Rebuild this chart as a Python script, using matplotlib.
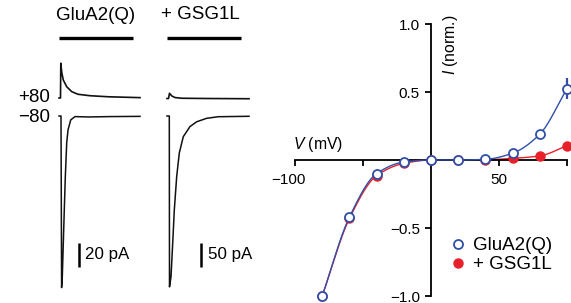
import numpy as np
import matplotlib
matplotlib.use('Agg')
import matplotlib.pyplot as plt
import matplotlib.transforms as mtransforms
from matplotlib.lines import Line2D

plt.rcParams['font.family'] = ['Liberation Sans', 'DejaVu Sans']
plt.rcParams['mathtext.fontset'] = 'custom'
plt.rcParams['mathtext.rm'] = 'Liberation Sans'
plt.rcParams['mathtext.it'] = 'Liberation Sans:italic'

# ---------------- data ----------------
voltages = [-80, -60, -40, -20, 0, 20, 40, 60, 80, 100]
iv_glua2 = [-1.0, -0.42, -0.10, -0.015, 0.0, 0.0, 0.005, 0.05, 0.19, 0.525]
iv_gsg1l = [-1.0, -0.43, -0.115, -0.025, 0.0, 0.0, 0.002, 0.012, 0.03, 0.105]
err_glua2 = [0, 0, 0, 0, 0, 0, 0, 0, 0, 0.08]
err_gsg1l = [0, 0, 0, 0, 0, 0, 0, 0, 0, 0.03]
series_labels = ["GluA2(Q)", "+ GSG1L"]
yticks = [-1.0, -0.5, 0.5, 1.0]
ytick_labels = ["\u22121.0", "\u22120.5", "0.5", "1.0"]
xticks = [-100, -50, 50, 100]
xtick_labels = ["\u2212100", "", "50", ""]

# current traces (time in ms, current in pA)
t_glua2_neg = [0, 2, 2.6, 3.3, 4.3, 5.3, 6.3, 7.7, 9, 11.7, 16, 30, 50, 81]
i_glua2_neg = [0, 0, -143, -134, -106, -78, -51, -22.5, -11.7, -3.3, -0.5, -0.8, -0.5, -0.3]
t_glua2_pos = [0, 1.5, 1.8, 2.8, 4.3, 7.7, 12.7, 19, 31, 50, 81]
i_glua2_pos = [0, 0, 29, 21, 15, 9.4, 5.3, 3.1, 1.9, 1.0, 0.3]
t_gsg1l_neg = [0, 2.3, 2.5, 4, 5.7, 7.3, 9.7, 12.3, 16.3, 23, 29.7, 39.7, 51.3, 82]
i_gsg1l_neg = [0, 0, -356, -335, -265, -196, -126, -77, -43, -22, -12, -4.8, -1.5, -0.6]
t_gsg1l_pos = [0, 1.5, 2.5, 5, 8, 15, 40, 82]
i_gsg1l_pos = [0, 0, 10.8, 5, 2, 0.5, 0, -0.5]
drug_duration = 74
scalebar_pA = [20, 50]
holding_labels = ["+80", "\u221280"]

# ---------------- layout ----------------
W, H = 571, 303
fig = plt.figure(figsize=(W / 100, H / 100), dpi=100)


def px_axes(x0, y0, x1, y1):
    return fig.add_axes([x0 / W, 1 - y1 / H, (x1 - x0) / W, (y1 - y0) / H])


def pchip(x, y, xn):
    x = np.asarray(x, float)
    y = np.asarray(y, float)
    h = np.diff(x)
    dl = np.diff(y) / h
    d = np.zeros_like(y)
    for k in range(1, len(x) - 1):
        if dl[k - 1] * dl[k] > 0:
            w1 = 2 * h[k] + h[k - 1]
            w2 = h[k] + 2 * h[k - 1]
            d[k] = (w1 + w2) / (w1 / dl[k - 1] + w2 / dl[k])
    d[0] = dl[0]
    d[-1] = dl[-1]
    idx = np.clip(np.searchsorted(x, xn) - 1, 0, len(x) - 2)
    hk = h[idx]
    s = (xn - x[idx]) / hk
    h00 = 2 * s**3 - 3 * s**2 + 1
    h10 = s**3 - 2 * s**2 + s
    h01 = -2 * s**3 + 3 * s**2
    h11 = s**3 - s**2
    return h00 * y[idx] + h10 * hk * d[idx] + h01 * y[idx + 1] + h11 * hk * d[idx + 1]


trace_color = '#111111'
base_px = 116           # -80 trace baseline (pixel row)
cols = [
    dict(x0=50, scale=1.2, pos_off_px=18, neg=(t_glua2_neg, i_glua2_neg),
         pos=(t_glua2_pos, i_glua2_pos), label=series_labels[0], lab_t=37,
         sb=scalebar_pA[0], sb_t=20, sb_text_t=26),
    dict(x0=158, scale=0.48, pos_off_px=17.5, neg=(t_gsg1l_neg, i_gsg1l_neg),
         pos=(t_gsg1l_pos, i_gsg1l_pos), label=series_labels[1], lab_t=33,
         sb=scalebar_pA[1], sb_t=34, sb_text_t=41),
]
for c in cols:
    ax = px_axes(c['x0'], 0, c['x0'] + 100, H)
    ax.set_xlim(-9, 91)
    sc = c['scale']
    ax.set_ylim(-(H - base_px) / sc, base_px / sc)
    ax.axis('off')
    tn, iN = c['neg']
    ax.plot(tn, iN, color=trace_color, lw=1.1, solid_joinstyle='round')
    tp, ip = c['pos']
    off = c['pos_off_px'] / sc
    ax.plot(tp, np.asarray(ip) + off, color=trace_color, lw=1.2, solid_joinstyle='round')
    # drug application bar
    yb = (base_px - 38) / sc
    ax.plot([0, drug_duration], [yb, yb], color='black', lw=2.4, solid_capstyle='butt')
    ax.text(c['lab_t'], (base_px - 15) / sc, c['label'], ha='center', va='center', fontsize=13.5)
    # scale bar
    ytop = (base_px - 243) / sc
    ax.plot([c['sb_t'], c['sb_t']], [ytop, ytop - c['sb']], color='black', lw=1.8,
            solid_capstyle='butt')
    ax.text(c['sb_text_t'], ytop - c['sb'] / 2, f"{c['sb']} pA", ha='left', va='center',
            fontsize=12.2)

fig.text(50 / W, 1 - 98 / H, holding_labels[0], ha='right', va='center', fontsize=13.5)
fig.text(50 / W, 1 - 117 / H, holding_labels[1], ha='right', va='center', fontsize=13.5)

# ---------------- I-V plot ----------------
blue = '#3050A8'
red = '#E8202A'
ax = px_axes(295, 24, 567, 296)
ax.set_xlim(-100, 100)
ax.set_ylim(-1, 1)
ax.patch.set_visible(False)
for s in ['top', 'right']:
    ax.spines[s].set_visible(False)
ax.spines['left'].set_position(('data', 0))
ax.spines['bottom'].set_position(('data', 0))
ax.spines['left'].set_linewidth(1.3)
ax.spines['bottom'].set_linewidth(1.3)
ax.set_yticks(yticks)
ax.set_yticklabels(ytick_labels)
ax.set_xticks(xticks)
ax.set_xticklabels(xtick_labels)
ax.tick_params(axis='y', direction='out', length=4.5, width=1.3, pad=3.5, labelsize=11)
ax.tick_params(axis='x', direction='out', length=4, width=1.3, pad=5, labelsize=11)
off = mtransforms.ScaledTranslation(-7 / 100, 0, fig.dpi_scale_trans)
for lab in ax.get_xticklabels():
    if lab.get_text().startswith('\u2212'):
        lab.set_transform(lab.get_transform() + off)

vv = np.linspace(voltages[0], voltages[-1], 300)
ax.plot(vv, pchip(voltages, iv_gsg1l, vv), color=red, lw=1.0, clip_on=False, zorder=2)
ax.plot(vv, pchip(voltages, iv_glua2, vv), color=blue, lw=1.0, clip_on=False, zorder=3)
ax.errorbar(voltages, iv_gsg1l, yerr=err_gsg1l, fmt='none', ecolor=red, elinewidth=1.6,
            capsize=0, clip_on=False, zorder=4)
ax.errorbar(voltages, iv_glua2, yerr=err_glua2, fmt='none', ecolor=blue, elinewidth=1.6,
            capsize=0, clip_on=False, zorder=4)
ax.plot(voltages, iv_gsg1l, 'o', color=red, ms=6.5, mec=red, clip_on=False, zorder=5,
        label=series_labels[1])
ax.plot(voltages, iv_glua2, 'o', color=blue, ms=6.5, mfc='white', mec=blue, mew=1.3,
        clip_on=False, zorder=6, label=series_labels[0])

handles = [Line2D([], [], ls='none', marker='o', ms=6.5, mfc='white', mec=blue, mew=1.3),
           Line2D([], [], ls='none', marker='o', ms=6.5, color=red)]
fig.legend(handles, series_labels, loc='center left', bbox_to_anchor=(449 / W, 1 - 255 / H),
           frameon=False, fontsize=13.5, handlelength=1.0, handletextpad=0.3,
           borderpad=0, borderaxespad=0, labelspacing=0.1)

fig.text(293 / W, 1 - 145 / H, r"$V$ (mV)", ha='left', va='center', fontsize=11.3)
fig.text(450 / W, 1 - 45 / H, r"$I$ (norm.)", ha='center', va='center', rotation=90,
         fontsize=11.3)

fig.savefig('out.png', dpi=100)
